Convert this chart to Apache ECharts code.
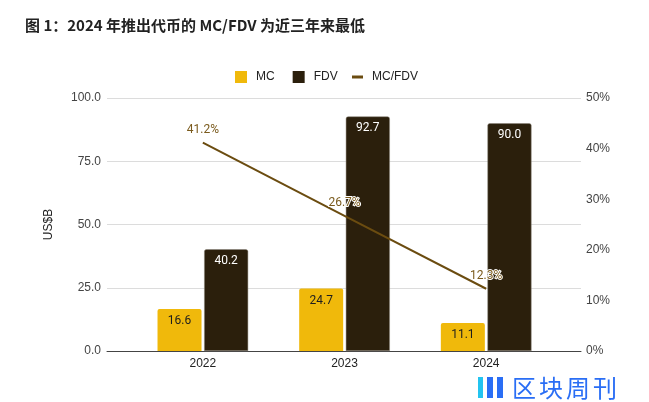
<!DOCTYPE html>
<html><head><meta charset="utf-8">
<script src="https://cdn.jsdelivr.net/npm/echarts@6/dist/echarts.min.js"></script>
<style>html,body{margin:0;padding:0;background:#fff}#c{width:649px;height:402px}</style>
</head><body><div id="c"></div>
<script>
const categories = ['2022', '2023', '2024'];
const mcValues = [16.6, 24.7, 11.1];
const fdvValues = [40.2, 92.7, 90.0];
const ratioValues = [0.412, 0.267, 0.123];
const leftTicks = { min: 0, max: 100, interval: 25 };
const rightTicks = { min: 0, max: 0.5, interval: 0.1 };

const chart = echarts.init(document.getElementById('c'), null, { renderer: 'canvas' });
const sans = 'Liberation Sans, Arial, sans-serif';
const labelFont = 'Roboto, sans-serif';
const wmChars = ['区', '块', '周', '刊'];
chart.setOption({
  animation: false,
  backgroundColor: '#fff',
  title: {
    text: '图 1：2024 年推出代币的 MC/FDV 为近三年来最低',
    left: 20, top: 13,
    textStyle: { fontFamily: 'Noto Sans CJK SC', fontWeight: 'bold', fontSize: 15, color: '#222' }
  },
  legend: [{
    left: 230, top: 66, itemWidth: 12, itemHeight: 12, itemGap: 18,
    icon: 'rect', itemStyle: { borderWidth: 0 },
    data: ['MC', 'FDV'],
    textStyle: { fontFamily: sans, fontSize: 12, color: '#222', padding: [0, 0, 0, 4] }
  }, {
    left: 347, top: 66, itemWidth: 11, itemHeight: 3,
    icon: 'rect',
    data: ['MC/FDV'],
    textStyle: { fontFamily: sans, fontSize: 12, color: '#222', padding: [0, 0, 0, 4] }
  }],
  grid: [
    { left: 107, right: 68, top: 98, bottom: 51 },
    { left: 132, right: 92, top: 98, bottom: 51 }
  ],
  xAxis: [
    { gridIndex: 0, type: 'category', data: [''], axisTick: { show: false }, axisLabel: { show: false },
      axisLine: { show: true, lineStyle: { color: '#444', width: 1 } } },
    { gridIndex: 1, type: 'category', data: categories, axisTick: { show: false },
      axisLine: { show: false },
      axisLabel: { margin: 7, fontFamily: sans, fontSize: 12, color: '#222' } }
  ],
  yAxis: [
    { gridIndex: 0, type: 'value', min: leftTicks.min, max: leftTicks.max, interval: leftTicks.interval,
      name: 'US$B', nameLocation: 'middle', nameGap: 52, nameRotate: 90,
      nameTextStyle: { fontFamily: sans, fontSize: 12, color: '#222' },
      axisLine: { show: false }, axisTick: { show: false },
      axisLabel: { margin: 6, fontFamily: sans, fontSize: 12, color: '#444', formatter: v => v.toFixed(1) },
      splitLine: { lineStyle: { color: '#dcdcdc', width: 1 } } },
    { gridIndex: 0, type: 'value', position: 'right', min: rightTicks.min, max: rightTicks.max, interval: rightTicks.interval,
      axisLine: { show: false }, axisTick: { show: false }, splitLine: { show: false },
      axisLabel: { margin: 5, fontFamily: sans, fontSize: 12, color: '#444', formatter: v => Math.round(v * 100) + '%' } },
    { gridIndex: 1, type: 'value', min: leftTicks.min, max: leftTicks.max, show: false },
    { gridIndex: 1, type: 'value', min: rightTicks.min, max: rightTicks.max, show: false }
  ],
  series: [
    { name: 'MC', type: 'bar', xAxisIndex: 1, yAxisIndex: 2, data: mcValues,
      barWidth: 44, barGap: '6%',
      itemStyle: { color: '#F0B90B', borderRadius: [2, 2, 0, 0] },
      label: { show: true, position: 'insideTop', distance: 6, fontFamily: labelFont, fontSize: 12, color: '#1e1e1e', formatter: p => p.value.toFixed(1) } },
    { name: 'FDV', type: 'bar', xAxisIndex: 1, yAxisIndex: 2, data: fdvValues,
      barWidth: 44, barGap: '6%',
      itemStyle: { color: '#2B1F0C', borderRadius: [2, 2, 0, 0], borderColor: '#8a8478', borderWidth: 0.5 },
      label: { show: true, position: 'insideTop', distance: 6, fontFamily: labelFont, fontSize: 12, color: '#fff', formatter: p => p.value.toFixed(1) } },
    { name: 'MC/FDV', type: 'line', xAxisIndex: 1, yAxisIndex: 3, data: ratioValues,
      symbol: 'circle', symbolSize: 0, showSymbol: true,
      itemStyle: { color: '#6B4C10' },
      lineStyle: { color: '#6B4C10', width: 2 },
      label: { show: true, position: 'top', distance: 7, fontFamily: labelFont, fontSize: 12, color: '#7a5a1c',
        textBorderColor: '#fff', textBorderWidth: 2, formatter: p => (p.value * 100).toFixed(1) + '%' } }
  ],
  graphic: [
    { type: 'rect', shape: { x: 478, y: 377, width: 5, height: 21 }, style: { fill: '#23c4f0' } },
    { type: 'rect', shape: { x: 487, y: 377, width: 6, height: 21 }, style: { fill: '#2a6ef5' } },
    { type: 'rect', shape: { x: 497, y: 377, width: 6, height: 21 }, style: { fill: '#2a6ef5' } }
  ].concat(wmChars.map((ch, i) => ({
    type: 'text', x: 512 + i * 27, y: 376,
    style: { text: ch, fontFamily: 'Noto Sans CJK SC', fontSize: 24, fill: '#2a6ef5' }
  })))
});
</script></body></html>
